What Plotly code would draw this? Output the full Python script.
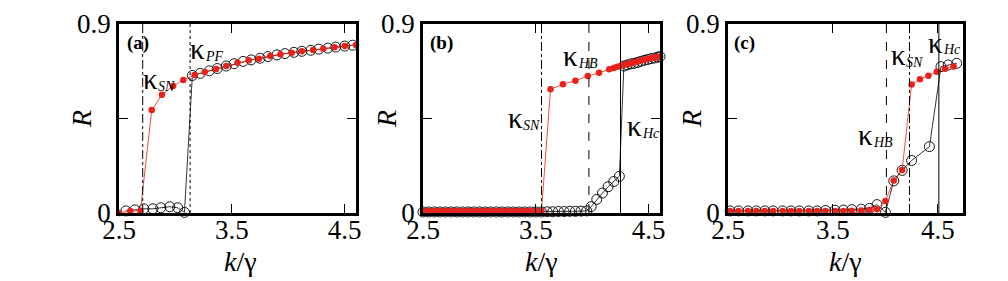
import plotly.graph_objects as go

# ---------------- data ----------------
# Panel (a)
a_red_k = [2.50, 2.60, 2.69, 2.79, 2.88, 2.98, 3.07, 3.17, 3.26, 3.36, 3.45, 3.55,
           3.65, 3.74, 3.84, 3.93, 4.03, 4.12, 4.22, 4.31, 4.41, 4.50, 4.60]
a_red_R = [0.0, 0.01, 0.01, 0.49, 0.563, 0.605, 0.633, 0.657, 0.672, 0.686, 0.70, 0.716,
           0.727, 0.735, 0.748, 0.756, 0.763, 0.77, 0.776, 0.782, 0.789, 0.795, 0.80]
a_blk_k = [2.56, 2.64, 2.72, 2.80, 2.87, 2.95, 3.02, 3.08,
           3.15, 3.22, 3.30, 3.37, 3.45, 3.52, 3.60, 3.67, 3.75, 3.82, 3.90, 3.97,
           4.05, 4.12, 4.20, 4.27, 4.35, 4.42, 4.50, 4.57]
a_blk_R = [0.01, 0.015, 0.02, 0.02, 0.025, 0.03, 0.025, 0.003,
           0.655, 0.665, 0.677, 0.688, 0.70, 0.711, 0.722, 0.729, 0.737, 0.745, 0.753, 0.759,
           0.765, 0.77, 0.775, 0.78, 0.785, 0.79, 0.795, 0.799]
a_kappa = [2.71, 3.13]          # kappa_SN, kappa_PF

# Panel (b)
b_red_k = [2.50, 2.55, 2.60, 2.65, 2.70, 2.75, 2.80, 2.85, 2.90, 2.95, 3.00, 3.05,
           3.10, 3.15, 3.20, 3.25, 3.30, 3.35, 3.40, 3.45, 3.50, 3.55,
           3.63, 3.74, 3.85, 3.96, 4.06, 4.15, 4.19, 4.22, 4.25, 4.28, 4.31, 4.34,
           4.37, 4.40, 4.43, 4.46, 4.49, 4.52, 4.55, 4.58, 4.60]
b_red_R = [0.01, 0.01, 0.01, 0.01, 0.01, 0.01, 0.01, 0.01, 0.01, 0.01, 0.01, 0.01,
           0.01, 0.01, 0.01, 0.01, 0.01, 0.01, 0.01, 0.01, 0.01, 0.01,
           0.589, 0.613, 0.63, 0.652, 0.668, 0.684, 0.69, 0.697, 0.70, 0.705, 0.71, 0.714,
           0.718, 0.722, 0.726, 0.73, 0.734, 0.737, 0.74, 0.743, 0.745]
b_blk_k = [2.50, 2.55, 2.60, 2.65, 2.70, 2.75, 2.80, 2.85, 2.90, 2.95, 3.00, 3.05,
           3.10, 3.15, 3.20, 3.25, 3.30, 3.35, 3.40, 3.45, 3.50, 3.55, 3.60, 3.65,
           3.70, 3.75, 3.80, 3.85, 3.90, 3.95,
           3.99, 4.04, 4.09, 4.14, 4.19, 4.24,
           4.28, 4.31, 4.34, 4.37, 4.40, 4.43, 4.46, 4.49, 4.52, 4.55, 4.58, 4.60]
b_blk_R = [0.005, 0.005, 0.005, 0.005, 0.005, 0.005, 0.005, 0.005, 0.005, 0.005, 0.005, 0.005,
           0.005, 0.005, 0.005, 0.005, 0.005, 0.005, 0.005, 0.005, 0.005, 0.005, 0.006, 0.006,
           0.007, 0.007, 0.008, 0.008, 0.009, 0.01,
           0.03, 0.065, 0.095, 0.125, 0.15, 0.175,
           0.70, 0.705, 0.71, 0.713, 0.717, 0.722, 0.727, 0.731, 0.735, 0.738, 0.742, 0.745]
b_kappa = [3.55, 3.97, 4.25]    # kappa_SN, kappa_HB, kappa_Hc

# Panel (c)
c_red_k = [2.52, 2.60, 2.69, 2.77, 2.85, 2.93, 3.02, 3.10, 3.18, 3.27, 3.35, 3.43,
           3.52, 3.60, 3.68, 3.77, 3.85, 3.92,
           4.00, 4.08, 4.16, 4.25, 4.33, 4.41, 4.49, 4.57, 4.65]
c_red_R = [0.01, 0.01, 0.01, 0.01, 0.01, 0.01, 0.01, 0.01, 0.01, 0.01, 0.01, 0.01,
           0.01, 0.01, 0.011, 0.012, 0.015, 0.018,
           0.057, 0.155, 0.205, 0.612, 0.637, 0.653, 0.673, 0.687, 0.698]
c_blk_k = [2.52, 2.60, 2.69, 2.77, 2.85, 2.93, 3.02, 3.10, 3.18, 3.27, 3.35, 3.43,
           3.52, 3.60, 3.68, 3.77, 3.85, 3.92,
           4.00, 4.08, 4.16, 4.25, 4.42, 4.53, 4.60, 4.68]
c_blk_R = [0.01, 0.01, 0.01, 0.01, 0.01, 0.01, 0.01, 0.01, 0.01, 0.01, 0.01, 0.012,
           0.013, 0.014, 0.016, 0.018, 0.022, 0.04,
           0.003, 0.153, 0.203, 0.25, 0.316, 0.697, 0.705, 0.713]
c_kappa = [4.01, 4.23, 4.51]    # kappa_HB, kappa_SN, kappa_Hc

x_ticks = [2.5, 3.5, 4.5]
x_ticktext = ["2.5", "3.5", "4.5"]
y_ticks = [0, 0.45, 0.9]
y_ticktext = ["0", " ", "0.9"]

panel_tags = ["(a)", "(b)", "(c)"]
kappa_subs = [["PF", "SN"], ["HB", "SN", "Hc"], ["SN", "Hc", "HB"]]

# ---------------- figure ----------------
FONT = "'Times New Roman', 'Liberation Serif', 'DejaVu Serif', serif"
RED = "#e8221a"
W, H = 1008, 281
OFF = 8   # the page body margin shifts the figure by this many pixels

def fx(px):
    return (px - OFF) / W

def fy(py):
    return 1 - (py - OFF) / H

fig = go.Figure()

panels = [
    ("x", "y", a_red_k, a_red_R, a_blk_k, a_blk_R),
    ("x2", "y2", b_red_k, b_red_R, b_blk_k, b_blk_R),
    ("x3", "y3", c_red_k, c_red_R, c_blk_k, c_blk_R),
]
for xa, ya, rk, rR, bk, bR in panels:
    fig.add_trace(go.Scatter(x=bk, y=bR, xaxis=xa, yaxis=ya, mode="lines+markers",
                             line=dict(color="black", width=0.8),
                             marker=dict(symbol="circle-open", size=10, color="black",
                                         line=dict(width=0.9, color="black")),
                             cliponaxis=False, showlegend=False))
    fig.add_trace(go.Scatter(x=rk, y=rR, xaxis=xa, yaxis=ya, mode="lines+markers",
                             line=dict(color=RED, width=0.8),
                             marker=dict(symbol="circle", size=6.5, color=RED),
                             cliponaxis=False, showlegend=False))

# vertical critical lines
vlines = [
    ("x", "y", a_kappa, ["dashdot", "dot"]),
    ("x2", "y2", b_kappa, ["dashdot", "dash", "solid"]),
    ("x3", "y3", c_kappa, ["dash", "dashdot", "solid"]),
]
for xa, ya, ks, styles in vlines:
    for k, st in zip(ks, styles):
        fig.add_shape(type="line", xref=xa, yref=ya, x0=k, x1=k, y0=0, y1=0.9,
                      line=dict(color="black", width=1, dash=st))

domains = [[fx(119), fx(356)], [fx(423), fx(660)], [fx(728), fx(963)]]
xranges = [[2.5, 4.6], [2.5, 4.6], [2.5, 4.74]]
ydom = [fy(213), fy(24)]

axis_common = dict(showline=True, linecolor="black", linewidth=2.5, mirror="ticks",
                   ticks="inside", ticklen=9, tickwidth=1.2, tickcolor="black",
                   showgrid=False, zeroline=False, automargin=False,
                   tickfont=dict(family=FONT, size=27, color="black"))
layout = dict(width=W, height=H, margin=dict(l=0, r=0, t=0, b=0, autoexpand=False),
              plot_bgcolor="white", paper_bgcolor="white", showlegend=False,
              font=dict(family=FONT, color="black"))
for i, (dom, xr) in enumerate(zip(domains, xranges)):
    sfx = "" if i == 0 else str(i + 1)
    layout["xaxis" + sfx] = dict(domain=dom, range=xr, anchor="y" + sfx,
                                 tickvals=x_ticks, ticktext=x_ticktext,
                                 ticklabelstandoff=-9, **axis_common)
    layout["yaxis" + sfx] = dict(domain=ydom, range=[0, 0.9], anchor="x" + sfx,
                                 tickvals=y_ticks, ticktext=y_ticktext,
                                 ticklabelstandoff=0, **axis_common)
fig.update_layout(**layout)

ann = []
def px_ann(x, y, text, size, xanchor="left", italic=False, angle=0):
    if italic:
        text = "<i>" + text + "</i>"
    ann.append(dict(xref="paper", yref="paper", x=fx(x), y=fy(y), text=text,
                    showarrow=False, xanchor=xanchor, yanchor="middle", textangle=angle,
                    font=dict(family=FONT, size=size, color="black")))

# panel tags (page pixel left edge, centre y)
for (tx, ty), tag in zip([(125, 43), (428, 43), (732, 43)], panel_tags):
    px_ann(tx, ty, "<b>" + tag + "</b>", 19)

# kappa labels: (kappa left x, kappa centre y) in page pixels
kappa_pos = [[(188, 49), (141, 79)],
             [(561, 56), (506, 118), (625, 126)],
             [(889, 55), (926, 43), (856, 135)]]
for poss, subs in zip(kappa_pos, kappa_subs):
    for (kx, ky), s in zip(poss, subs):
        px_ann(kx, ky, "κ", 29)
        px_ann(kx + 15, ky + 7, s, 14, italic=True)

# axis titles
for xc, rc in [(240, 82), (541, 387), (845, 692)]:
    px_ann(xc, 261, "<i>k</i>/γ", 28, xanchor="center")
    px_ann(rc, 119, "R", 28, xanchor="center", italic=True, angle=-90)
fig.update_layout(annotations=ann)

fig.write_html("out.html")
